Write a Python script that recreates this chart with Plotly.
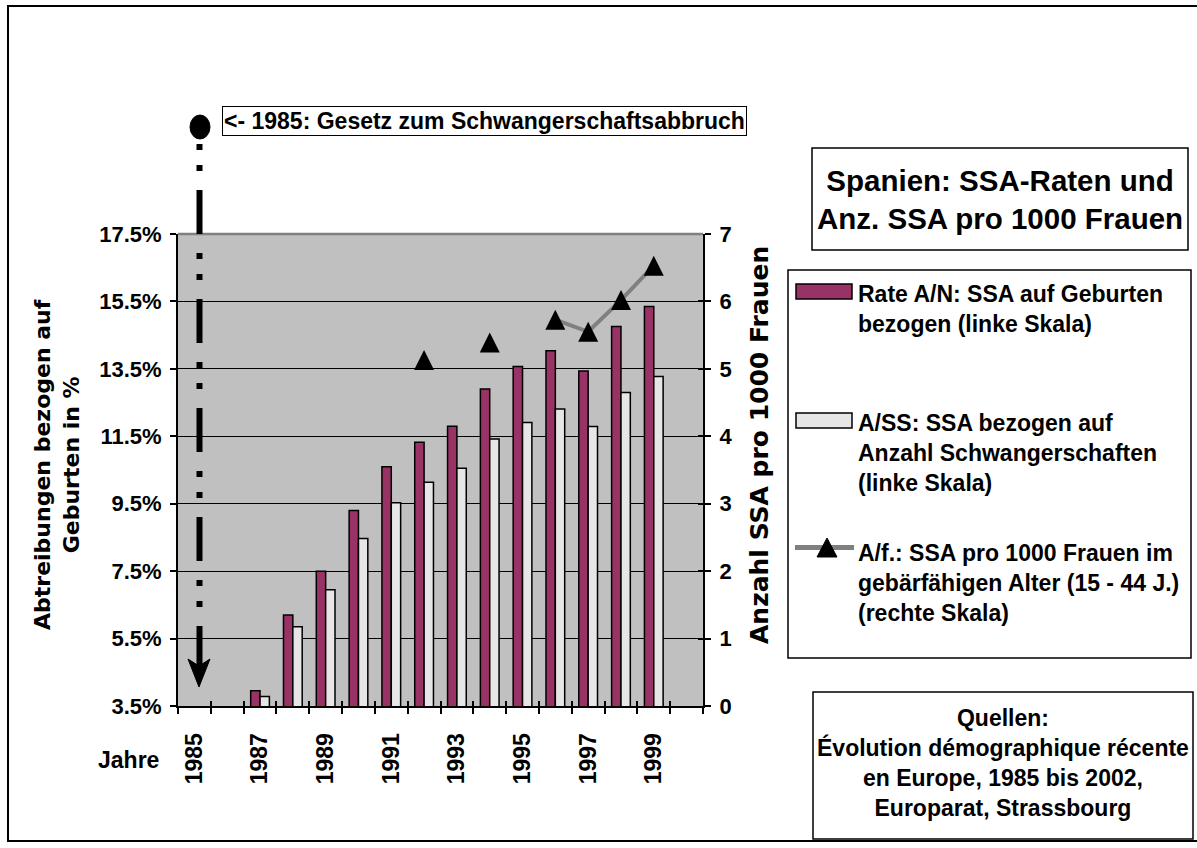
import plotly.graph_objects as go

# ---------------- data ----------------
years = list(range(1985, 2001))
year_tickvals = [1985, 1987, 1989, 1991, 1993, 1995, 1997, 1999]
year_ticktext = ["1985", "1987", "1989", "1991", "1993", "1995", "1997", "1999"]

# Rate A/N: abortions relative to births (%), left scale
rate_an = [None, None, 3.95, 6.2, 7.5, 9.3, 10.6, 11.32, 11.8, 12.9, 13.57, 14.04, 13.44, 14.76, 15.35, None]
# A/SS: abortions relative to pregnancies (%), left scale
rate_ass = [None, None, 3.78, 5.85, 6.95, 8.47, 9.53, 10.14, 10.55, 11.42, 11.91, 12.31, 11.79, 12.8, 13.27, None]
# A/f.: abortions per 1000 women 15-44, right scale
af_per_1000 = [None, None, None, None, None, None, None, 5.13, None, 5.39, None, 5.73, 5.55, 6.02, 6.53, None]

name_an = "Rate A/N: SSA auf Geburten<br>bezogen (linke Skala)"
name_ass = "A/SS: SSA bezogen auf<br>Anzahl Schwangerschaften<br>(linke Skala)"
name_af = "A/f.: SSA pro 1000 Frauen im<br>gebärfähigen Alter (15 - 44 J.)<br>(rechte Skala)"
title_text = "Spanien: SSA-Raten und<br>Anz. SSA pro 1000 Frauen"
source_text = "Quellen:<br>Évolution démographique récente<br>en Europe, 1985 bis 2002,<br>Europarat, Strassbourg"
law_text = "<- 1985: Gesetz zum Schwangerschaftsabbruch"

# ---------------- geometry ----------------
W, H = 1197, 848
ML, MR, MT, MB = 178, 494, 234, 142
PW = W - ML - MR
PH = H - MT - MB


def px(x):
    return (x - ML) / PW


def py(y):
    return (H - MB - y) / PH


FONT = "Liberation Sans, Arial, sans-serif"
BOLD = dict(family=FONT, size=23, color="black", weight="bold")
TICKF = dict(family=FONT, size=22, color="black", weight="bold")
MAGENTA = "#993366"
LIGHT = "#E6E6E6"

fig = go.Figure()
fig.add_trace(go.Bar(x=years, y=rate_an, name=name_an,
                     marker=dict(color=MAGENTA, line=dict(color="black", width=1.5))))
fig.add_trace(go.Bar(x=years, y=rate_ass, name=name_ass,
                     marker=dict(color=LIGHT, line=dict(color="black", width=1.5))))
fig.add_trace(go.Scatter(x=years, y=af_per_1000, name=name_af, yaxis="y2",
                         mode="lines+markers", connectgaps=False,
                         line=dict(color="#808080", width=4),
                         marker=dict(symbol="arrow-down", angle=180, standoff=10,
                                     size=20, color="black")))
# empty helper trace so the overlay axes (inner tick marks) get drawn
fig.add_trace(go.Scatter(x=[], y=[], xaxis="x2", yaxis="y3", showlegend=False,
                         hoverinfo="skip"))

shapes = []
# outer frame (top, left, bottom; right edge lies outside the picture)
shapes.append(dict(type="path", xref="paper", yref="paper",
                   path=f"M {px(1197)},{py(6)} L {px(8)},{py(6)} L {px(8)},{py(841)} L {px(1197)},{py(841)}",
                   line=dict(color="black", width=2), layer="below"))
# grey top edge of plot area
shapes.append(dict(type="line", xref="paper", yref="paper",
                   x0=0, x1=1, y0=1, y1=1, line=dict(color="#808080", width=2.5)))
# 1985 law marker: dot, dash-dot-dot line, arrow head
shapes.append(dict(type="circle", xref="paper", yref="paper",
                   x0=px(190), x1=px(210), y0=py(115), y1=py(139),
                   fillcolor="black", line=dict(color="black", width=1)))
shapes.append(dict(type="line", xref="paper", yref="paper",
                   x0=px(199.5), x1=px(199.5), y0=py(144), y1=py(668),
                   line=dict(color="black", width=6, dash="6px,15px,6px,19px,44px,19px")))
shapes.append(dict(type="path", xref="paper", yref="paper",
                   path=f"M {px(199)},{py(687)} L {px(188)},{py(659)} L {px(199)},{py(666)} L {px(210)},{py(659)} Z",
                   fillcolor="black", line=dict(color="black", width=1)))
# title box
shapes.append(dict(type="rect", xref="paper", yref="paper",
                   x0=px(812), x1=px(1188), y0=py(148), y1=py(250),
                   line=dict(color="black", width=1.5), fillcolor="white", layer="below"))
# legend box
shapes.append(dict(type="rect", xref="paper", yref="paper",
                   x0=px(788), x1=px(1191), y0=py(270), y1=py(658),
                   line=dict(color="black", width=1.5), fillcolor="white", layer="below"))
# legend swatches
shapes.append(dict(type="rect", xref="paper", yref="paper",
                   x0=px(796), x1=px(852), y0=py(284), y1=py(299),
                   fillcolor=MAGENTA, line=dict(color="black", width=1.5)))
shapes.append(dict(type="rect", xref="paper", yref="paper",
                   x0=px(796), x1=px(852), y0=py(413), y1=py(428),
                   fillcolor=LIGHT, line=dict(color="black", width=1.5)))
shapes.append(dict(type="line", xref="paper", yref="paper",
                   x0=px(795), x1=px(854), y0=py(547.5), y1=py(547.5),
                   line=dict(color="#808080", width=5)))
shapes.append(dict(type="path", xref="paper", yref="paper",
                   path=f"M {px(817)},{py(557)} L {px(827)},{py(538)} L {px(837)},{py(557)} Z",
                   fillcolor="black", line=dict(color="black", width=1)))
# sources box
shapes.append(dict(type="rect", xref="paper", yref="paper",
                   x0=px(813), x1=px(1193), y0=py(692), y1=py(839),
                   line=dict(color="black", width=1.5), fillcolor="white", layer="below"))

ann = []
ann.append(dict(text=law_text, xref="paper", yref="paper", x=px(484), y=py(120.5),
                xanchor="center", yanchor="middle", showarrow=False, font=BOLD,
                bordercolor="black", borderwidth=1, borderpad=1, bgcolor="white"))
ann.append(dict(text=title_text, xref="paper", yref="paper", x=px(1000), y=py(199),
                xanchor="center", yanchor="middle", showarrow=False,
                font=dict(BOLD, size=29.5)))
ann.append(dict(text=name_an, xref="paper", yref="paper", x=px(856), y=py(309),
                xanchor="left", yanchor="middle", align="left", showarrow=False, font=BOLD))
ann.append(dict(text=name_ass, xref="paper", yref="paper", x=px(856), y=py(453),
                xanchor="left", yanchor="middle", align="left", showarrow=False, font=BOLD))
ann.append(dict(text=name_af, xref="paper", yref="paper", x=px(856), y=py(583),
                xanchor="left", yanchor="middle", align="left", showarrow=False, font=BOLD))
ann.append(dict(text=source_text, xref="paper", yref="paper", x=px(1003), y=py(763),
                xanchor="center", yanchor="middle", align="center", showarrow=False, font=BOLD))
ann.append(dict(text="Jahre", xref="paper", yref="paper", x=px(128), y=py(760),
                xanchor="center", yanchor="middle", showarrow=False, font=BOLD))
ann.append(dict(text="Abtreibungen bezogen auf<br>Geburten in %", xref="paper", yref="paper",
                x=px(57), y=py(465), xanchor="center", yanchor="middle", textangle=-90,
                showarrow=False, font=dict(BOLD, family="DejaVu Sans", size=22)))
ann.append(dict(text="Anzahl SSA pro 1000 Frauen", xref="paper", yref="paper",
                x=px(759), y=py(445), xanchor="center", yanchor="middle", textangle=-90,
                showarrow=False, font=dict(BOLD, family="DejaVu Sans", size=25)))

fig.update_layout(
    width=W, height=H,
    margin=dict(l=ML, r=MR, t=MT, b=MB, pad=0),
    paper_bgcolor="white", plot_bgcolor="#C0C0C0",
    barmode="group", bargap=0.43, bargroupgap=0,
    showlegend=False,
    font=BOLD,
    shapes=shapes, annotations=ann,
    xaxis=dict(range=[1984.5, 2000.5], tickmode="array", tickvals=year_tickvals,
               ticktext=year_ticktext, tickangle=-90, ticks="outside", ticklen=6,
               tickcolor="rgba(0,0,0,0)", ticklabelstandoff=10,
               showline=True, linecolor="black", linewidth=2, showgrid=False,
               zeroline=False, tickfont=dict(TICKF, size=23),
               minor=dict(tickmode="linear", tick0=1984.5, dtick=1, ticks="outside",
                          ticklen=6, tickwidth=1.5, tickcolor="black", showgrid=False)),
    yaxis=dict(range=[3.5, 17.5], tick0=3.5, dtick=2, tickformat=".1f", ticksuffix="%",
               showgrid=True, gridcolor="black", gridwidth=1, showline=True,
               linecolor="black", linewidth=2, ticks="outside", ticklen=6,
               tickwidth=1.5, tickcolor="black", zeroline=False, tickfont=TICKF,
               ticklabelstandoff=4),
    yaxis2=dict(range=[0, 7], dtick=1, overlaying="y", side="right", showgrid=False,
                showline=True, linecolor="black", linewidth=2, ticks="outside",
                ticklen=6, tickwidth=1.5, tickcolor="black", zeroline=False,
                tickfont=TICKF, ticklabelstandoff=4),
    xaxis2=dict(range=[1984.5, 2000.5], overlaying="x", anchor="y3", tickmode="linear",
                tick0=1984.5, dtick=1, ticks="inside", ticklen=5, tickwidth=1.5,
                tickcolor="black", showticklabels=False, showgrid=False, zeroline=False),
    yaxis3=dict(range=[0, 7], overlaying="y", side="right", anchor="x2", dtick=1,
                ticks="inside", ticklen=5, tickwidth=1.5, tickcolor="black",
                showticklabels=False, showgrid=False, zeroline=False),
)

fig.write_html("out.html", config={"displayModeBar": False},
               post_script="document.body.style.margin='0px';")
